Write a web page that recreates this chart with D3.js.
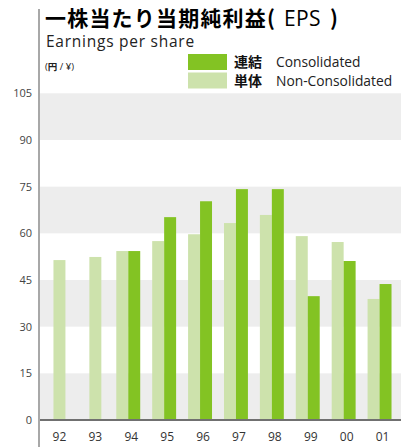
<!DOCTYPE html>
<html>
<head>
<meta charset="utf-8">
<script src="https://cdn.jsdelivr.net/npm/d3@7"></script>
<style>
  body { margin: 0; background: #fff; }
  svg { display: block; font-family: "Open Sans", "Noto Sans CJK JP", sans-serif; }
</style>
</head>
<body>
<script>
const width = 401;
const height = 447;

const years = ['92', '93', '94', '95', '96', '97', '98', '99', '00', '01'];
const consolidated = [null, null, 54.3, 65.2, 70.3, 74.2, 74.2, 39.8, 51.1, 43.7];
const nonConsolidated = [51.4, 52.4, 54.3, 57.5, 59.7, 63.3, 65.9, 59.1, 57.2, 38.9];
const yTicks = [0, 15, 30, 45, 60, 75, 90, 105];

const darkGreen = '#83c323';
const lightGreen = '#cde2ac';
const bandGray = '#ededed';

const svg = d3.select('body').append('svg').attr('width', width).attr('height', height);

const x = d3.scaleBand().domain(years).range([38.5, 397.5]).padding(0);
const xSub = d3.scaleBand().domain(['non', 'con']).range([0, x.bandwidth()]).paddingInner(0).paddingOuter(0.5);
const y = d3.scaleLinear().domain([0, 105]).range([420, 93.3]);

// alternating bands
const bands = yTicks.slice(0, -1).filter((d, i) => i % 2 === 0);
svg.append('g')
  .selectAll('rect')
  .data(bands)
  .enter()
  .append('rect')
  .attr('x', 40)
  .attr('width', width - 40)
  .attr('y', d => y(d + 15))
  .attr('height', d => y(d) - y(d + 15))
  .attr('fill', bandGray);

const rows = years.map((yr, i) => ({ yr, con: consolidated[i], non: nonConsolidated[i] }));

const groups = svg.append('g')
  .selectAll('g')
  .data(rows)
  .enter()
  .append('g')
  .attr('transform', d => `translate(${x(d.yr)},0)`);

groups.append('rect')
  .attr('x', d => d.con == null ? x.bandwidth() / 2 + 3 - xSub.bandwidth() / 2 : xSub('non'))
  .attr('width', xSub.bandwidth())
  .attr('y', d => y(d.non))
  .attr('height', d => y(0) - y(d.non))
  .attr('fill', lightGreen);

groups.filter(d => d.con != null)
  .append('rect')
  .attr('x', xSub('con'))
  .attr('width', xSub.bandwidth())
  .attr('y', d => y(d.con))
  .attr('height', d => y(0) - y(d.con))
  .attr('fill', darkGreen);

// zero baseline
svg.append('line')
  .attr('x1', 39).attr('x2', width)
  .attr('y1', y(0)).attr('y2', y(0))
  .attr('stroke', '#707070').attr('stroke-width', 2);

// vertical axis line
svg.append('line')
  .attr('x1', 39).attr('x2', 39)
  .attr('y1', 9).attr('y2', height)
  .attr('stroke', '#a8a8a8').attr('stroke-width', 2);

// y axis labels
const yAxis = svg.append('g')
  .attr('transform', 'translate(32,0)')
  .call(d3.axisLeft(y).tickValues(yTicks).tickSize(0).tickPadding(0));
yAxis.select('.domain').remove();
yAxis.selectAll('text').attr('font-size', 11).attr('fill', '#444').attr('font-family', '"Open Sans", sans-serif');

// x axis labels
const xAxis = svg.append('g')
  .attr('transform', `translate(3,${y(0) + 12})`)
  .call(d3.axisBottom(x).tickSize(0).tickPadding(0));
xAxis.select('.domain').remove();
xAxis.selectAll('text').attr('font-size', 12).attr('fill', '#333').attr('font-family', '"Open Sans", sans-serif');

// title
const title = svg.append('text').attr('x', 45).attr('y', 26).attr('fill', '#000');
title.append('tspan')
  .attr('font-family', '"Noto Sans CJK JP", sans-serif')
  .attr('font-weight', 'bold')
  .attr('font-size', 21)
  .attr('letter-spacing', 1.2)
  .text('一株当たり当期純利益(');
title.append('tspan')
  .attr('x', 284)
  .attr('font-size', 21)
  .attr('letter-spacing', 0.3)
  .text('EPS');
title.append('tspan')
  .attr('x', 330)
  .attr('font-family', '"Noto Sans CJK JP", sans-serif')
  .attr('font-weight', 'bold')
  .attr('font-size', 21)
  .text(')');

svg.append('text')
  .attr('x', 46).attr('y', 47)
  .attr('font-size', 15.5)
  .attr('letter-spacing', 0.75)
  .attr('fill', '#222')
  .text('Earnings per share');

const unit = svg.append('text').attr('x', 45).attr('y', 70).attr('font-size', 9.5).attr('fill', '#222');
unit.append('tspan').text('(');
unit.append('tspan').attr('font-weight', 'bold').attr('font-family', '"Noto Sans CJK JP", sans-serif').text('円');
unit.append('tspan').text(' / ¥)');

// legend
const legendItems = [
  { color: darkGreen, jp: '連結', en: 'Consolidated' },
  { color: lightGreen, jp: '単体', en: 'Non-Consolidated' }
];
const legend = svg.append('g').attr('transform', 'translate(188,54)');
const li = legend.selectAll('g')
  .data(legendItems)
  .enter()
  .append('g')
  .attr('transform', (d, i) => `translate(0,${i * 18.5})`);
li.append('rect').attr('width', 39).attr('height', 16).attr('fill', d => d.color);
li.append('text')
  .attr('x', 46).attr('y', 13)
  .attr('font-family', '"Noto Sans CJK JP", sans-serif')
  .attr('font-weight', 'bold')
  .attr('font-size', 14)
  .attr('fill', '#111')
  .text(d => d.jp);
li.append('text')
  .attr('x', 88).attr('y', 13)
  .attr('font-size', 13.8)
  .attr('fill', '#222')
  .text(d => d.en);
</script>
</body>
</html>
